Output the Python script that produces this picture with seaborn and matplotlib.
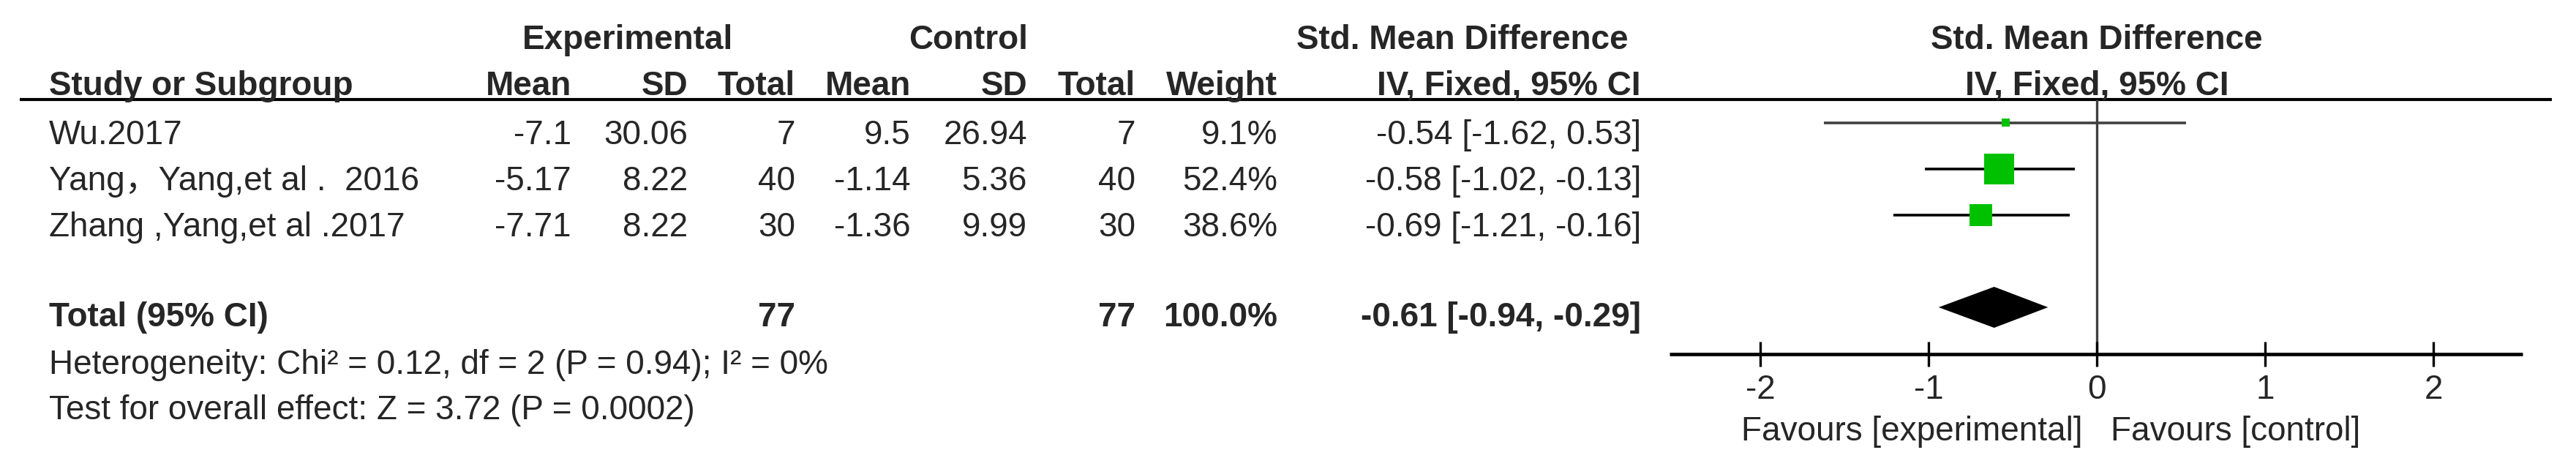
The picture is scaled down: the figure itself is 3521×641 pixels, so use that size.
import matplotlib
matplotlib.use('Agg')
import matplotlib.pyplot as plt
import matplotlib.transforms as mtransforms
import seaborn as sns
import numpy as np

# Data
studies = ['Wu.2017', 'Yang\uff0cYang,et al .  2016', 'Zhang ,Yang,et al .2017']
exp_mean = [-7.1, -5.17, -7.71]
exp_sd = [30.06, 8.22, 8.22]
exp_n = [7, 40, 30]
ctl_mean = [9.5, -1.14, -1.36]
ctl_sd = [26.94, 5.36, 9.99]
ctl_n = [7, 40, 30]
weights = [9.1, 52.4, 38.6]
smd = [-0.54, -0.58, -0.69]
ci_low = [-1.62, -1.02, -1.21]
ci_high = [0.53, -0.13, -0.16]

total_exp_n = 77
total_ctl_n = 77
total_weight = 100.0
total_smd = -0.61
total_low = -0.94
total_high = -0.29

heterogeneity = 'Heterogeneity: Chi\u00b2 = 0.12, df = 2 (P = 0.94); I\u00b2 = 0%'
overall_effect = 'Test for overall effect: Z = 3.72 (P = 0.0002)'
x_ticks = [-2, -1, 0, 1, 2]
favours = ['Favours [experimental]', 'Favours [control]']

sns.set_style('white')
plt.rcParams['font.family'] = ['Liberation Sans', 'Noto Sans CJK SC']

W, H = 3521, 641
fig = plt.figure(figsize=(W / 100, H / 100), dpi=100)

# table axes in pixel coordinates
ax_t = fig.add_axes([0, 0, 1, 1])
ax_t.set_xlim(0, W)
ax_t.set_ylim(H, 0)
ax_t.axis('off')

# forest axes: x in effect size, y in row index
zero_px, unit_px = 2866, 230
row0_px, row_px = 168, 63
ax_f = fig.add_axes([0, 0, 1, 1])
ax_f.set_xlim(-zero_px / unit_px, (W - zero_px) / unit_px)
ax_f.set_ylim((H - row0_px) / row_px, -row0_px / row_px)
ax_f.axis('off')
ax_f.patch.set_alpha(0)

fs = 33
col_right = [781, 940, 1087, 1245, 1404, 1552, 1746, 2243]
text_off = 12  # text sits a bit below the marks
base_off = 17

# headers
ax_t.text(858, 67, 'Experimental', ha='center', fontsize=fs, fontweight='bold')
ax_t.text(1324, 67, 'Control', ha='center', fontsize=fs, fontweight='bold')
ax_t.text(1999, 67, 'Std. Mean Difference', ha='center', fontsize=fs, fontweight='bold')
ax_t.text(zero_px, 67, 'Std. Mean Difference', ha='center', fontsize=fs, fontweight='bold')
ax_t.text(67, 130, 'Study or Subgroup', ha='left', fontsize=fs, fontweight='bold')
heads = ['Mean', 'SD', 'Total', 'Mean', 'SD', 'Total', 'Weight', 'IV, Fixed, 95% CI']
for x, h in zip(col_right, heads):
    ax_t.text(x, 130, h, ha='right', fontsize=fs, fontweight='bold')
ax_t.text(zero_px, 130, 'IV, Fixed, 95% CI', ha='center', fontsize=fs, fontweight='bold')
ax_t.hlines(136, 27, 3488, color='black', lw=3.0)

# study rows
for i, name in enumerate(studies):
    yb = row0_px + row_px * i + text_off + base_off
    ax_t.text(67, yb, name, ha='left', fontsize=fs)
    vals = [f'{exp_mean[i]:g}', f'{exp_sd[i]:g}', f'{exp_n[i]}',
            f'{ctl_mean[i]:g}', f'{ctl_sd[i]:g}', f'{ctl_n[i]}',
            f'{weights[i]:.1f}%',
            f'{smd[i]:.2f} [{ci_low[i]:.2f}, {ci_high[i]:.2f}]']
    for x, v in zip(col_right, vals):
        ax_t.text(x, yb, v, ha='right', fontsize=fs)

# total row
total_row = 4
yb = row0_px + row_px * total_row + 9 + base_off
ax_t.text(67, yb, 'Total (95% CI)', ha='left', fontsize=fs, fontweight='bold')
tot_vals = {2: f'{total_exp_n}', 5: f'{total_ctl_n}', 6: f'{total_weight:.1f}%',
            7: f'{total_smd:.2f} [{total_low:.2f}, {total_high:.2f}]'}
for k, v in tot_vals.items():
    ax_t.text(col_right[k], yb, v, ha='right', fontsize=fs, fontweight='bold')
ax_t.text(67, 511, heterogeneity, ha='left', fontsize=fs)
ax_t.text(67, 573, overall_effect, ha='left', fontsize=fs)

# forest: CI lines
rows = np.arange(len(studies))
ci_colors = ['#404040', 'black', 'black']
ax_f.hlines(rows, ci_low, ci_high, colors=ci_colors, lw=2.6, zorder=2)

# squares sized by weight
side_px = np.maximum(np.array(weights) * 0.79, 11)
sq_s = (side_px * 0.72) ** 2
sns.scatterplot(x=smd, y=rows, marker='s', s=sq_s, color='#00c000',
                linewidth=0, ax=ax_f, zorder=3, legend=False)

# pooled diamond
half_h = 28 / row_px
dx = [total_low, total_smd, total_high, total_smd]
dy = [total_row, total_row - half_h, total_row, total_row + half_h]
ax_f.fill(dx, dy, color='black', lw=0, zorder=3)

# zero line and bottom axis
top_row = (136 - row0_px) / row_px
axis_row = (484 - row0_px) / row_px
tick_h = 17 / row_px
ax_f.vlines(0, top_row, axis_row, color='#404040', lw=2.4, zorder=1)
ax_f.hlines(axis_row, -2.54, 2.53, color='black', lw=3.4)
ax_f.vlines(x_ticks, axis_row - tick_h, axis_row + tick_h, color='black', lw=2.4)

trans = mtransforms.blended_transform_factory(ax_f.transData, ax_t.transData)
for t in x_ticks:
    ax_f.text(t, 545, f'{t}', transform=trans, ha='center', fontsize=fs)
ax_f.text(-20 / unit_px, 602, favours[0], transform=trans, ha='right', fontsize=fs)
ax_f.text(19 / unit_px, 602, favours[1], transform=trans, ha='left', fontsize=fs)

fig.savefig('out.png', dpi=100)
